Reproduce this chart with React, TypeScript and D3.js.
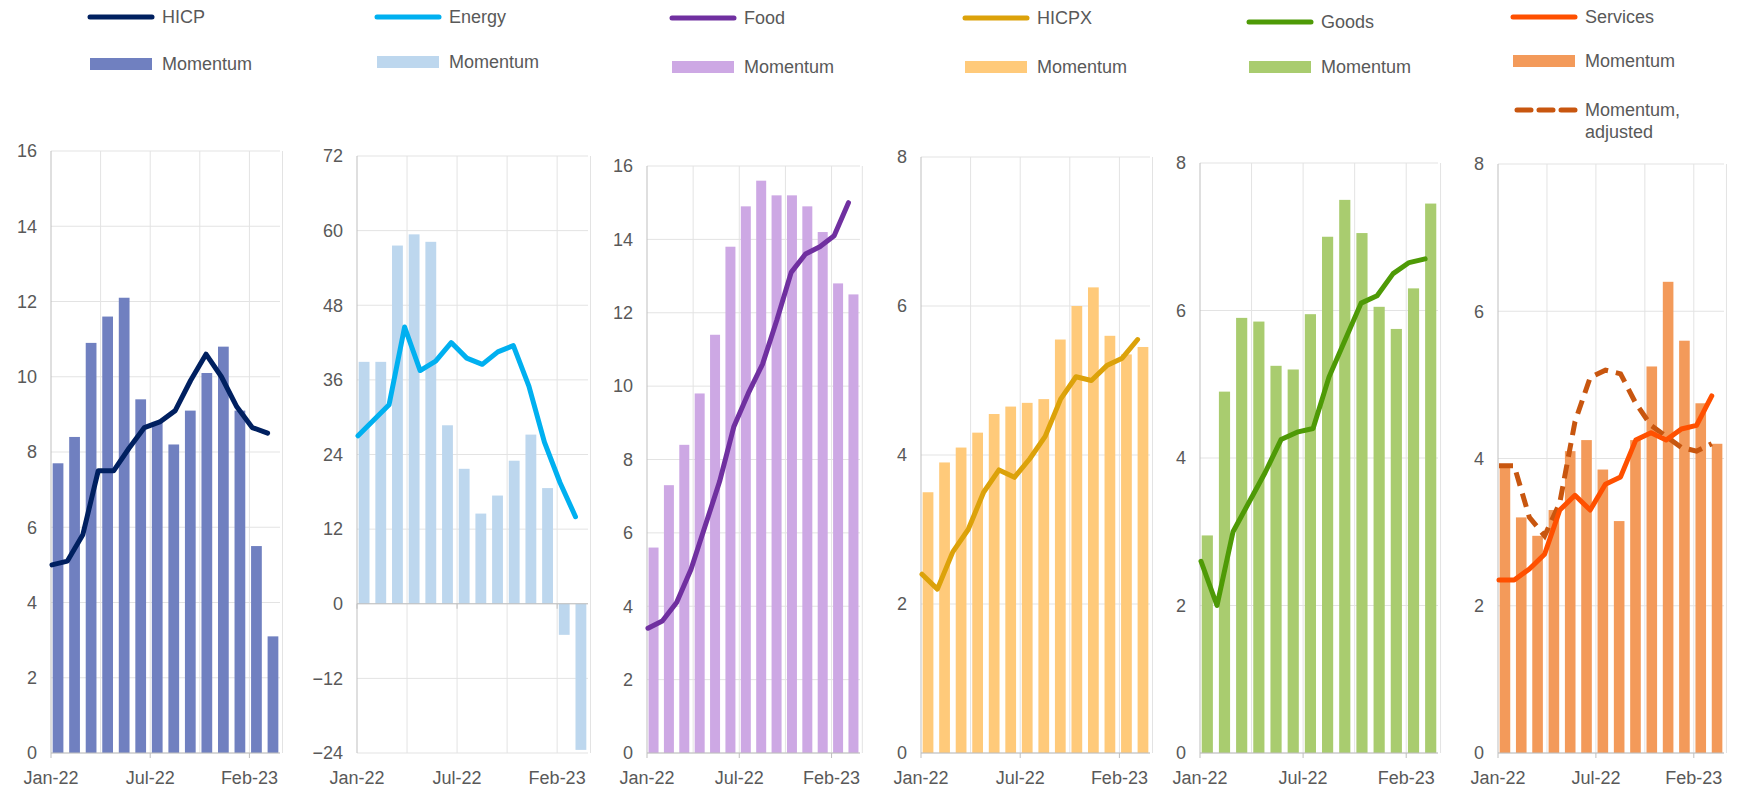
import React, { useRef, useEffect } from 'react';
import * as d3 from 'd3';

const barMonths = ['Jan-22','Feb-22','Mar-22','Apr-22','May-22','Jun-22','Jul-22','Aug-22','Sep-22','Oct-22','Nov-22','Dec-22','Jan-23','Feb-23'];
const tickLabels = ['Jan-22', 'Jul-22', 'Feb-23'];

const hicpBars = [7.7, 8.4, 10.9, 11.6, 12.1, 9.4, 8.8, 8.2, 9.1, 10.1, 10.8, 9.1, 5.5, 3.1];
const hicpLine = [5.0, 5.1, 5.8, 7.5, 7.5, 8.1, 8.65, 8.8, 9.1, 9.9, 10.6, 10.0, 9.2, 8.65, 8.5];
const energyBars = [38.9, 38.9, 57.6, 59.4, 58.2, 28.7, 21.7, 14.5, 17.4, 23.0, 27.2, 18.6, -5.0, -23.5];
const energyLine = [27, 29.5, 32, 44.5, 37.5, 39, 42, 39.5, 38.5, 40.5, 41.5, 35, 26, 19.5, 14];
const foodBars = [5.6, 7.3, 8.4, 9.8, 11.4, 13.8, 14.9, 15.6, 15.2, 15.2, 14.9, 14.2, 12.8, 12.5];
const foodLine = [3.4, 3.6, 4.1, 5.0, 6.2, 7.4, 8.9, 9.8, 10.6, 11.8, 13.1, 13.6, 13.8, 14.1, 15.0];
const hicpxBars = [3.5, 3.9, 4.1, 4.3, 4.55, 4.65, 4.7, 4.75, 5.55, 6.0, 6.25, 5.6, 5.35, 5.45];
const hicpxLine = [2.4, 2.2, 2.7, 3.0, 3.5, 3.8, 3.7, 3.95, 4.25, 4.75, 5.05, 5.0, 5.2, 5.3, 5.55];
const goodsBars = [2.95, 4.9, 5.9, 5.85, 5.25, 5.2, 5.95, 7.0, 7.5, 7.05, 6.05, 5.75, 6.3, 7.45];
const goodsLine = [2.6, 2.0, 3.0, 3.4, 3.8, 4.25, 4.35, 4.4, 5.1, 5.6, 6.1, 6.2, 6.5, 6.65, 6.7];
const servicesBars = [3.9, 3.2, 2.95, 3.3, 4.1, 4.25, 3.85, 3.15, 4.25, 5.25, 6.4, 5.6, 4.75, 4.2];
const servicesLine = [2.35, 2.35, 2.5, 2.7, 3.3, 3.5, 3.3, 3.65, 3.75, 4.25, 4.35, 4.25, 4.4, 4.45, 4.85];
const servicesAdj = [3.9, 3.9, 3.2, 2.95, 3.4, 4.5, 5.1, 5.2, 5.15, 4.75, 4.45, 4.3, 4.15, 4.1, 4.2];

type Panel = {
  name: string; bars: number[]; line: number[]; dashed?: number[];
  lineColor: string; barColor: string; dashColor?: string;
  x0: number; x1: number; yTop: number; domain: [number, number]; step: number;
  legendX: number; legendY: number; momY: number;
};

const panels: Panel[] = [
  { name: 'HICP', bars: hicpBars, line: hicpLine, lineColor: '#002060', barColor: '#7080c0', x0: 51, x1: 280, yTop: 151, domain: [0, 16], step: 2, legendX: 90, legendY: 17, momY: 64 },
  { name: 'Energy', bars: energyBars, line: energyLine, lineColor: '#00b0f0', barColor: '#bdd7ee', x0: 357, x1: 588, yTop: 156, domain: [-24, 72], step: 12, legendX: 377, legendY: 17, momY: 62 },
  { name: 'Food', bars: foodBars, line: foodLine, lineColor: '#7030a0', barColor: '#cda8e4', x0: 647, x1: 860, yTop: 166, domain: [0, 16], step: 2, legendX: 672, legendY: 18, momY: 67 },
  { name: 'HICPX', bars: hicpxBars, line: hicpxLine, lineColor: '#dca20a', barColor: '#ffca7a', x0: 921, x1: 1150, yTop: 157, domain: [0, 8], step: 2, legendX: 965, legendY: 18, momY: 67 },
  { name: 'Goods', bars: goodsBars, line: goodsLine, lineColor: '#4e9a06', barColor: '#a9cc6f', x0: 1200, x1: 1438, yTop: 163, domain: [0, 8], step: 2, legendX: 1249, legendY: 22, momY: 67 },
  { name: 'Services', bars: servicesBars, line: servicesLine, dashed: servicesAdj, lineColor: '#ff5000', barColor: '#f39a5a', dashColor: '#c8560f', x0: 1498, x1: 1724, yTop: 164, domain: [0, 8], step: 2, legendX: 1513, legendY: 17, momY: 61 },
];

const yBottom = 753;
const textColor = '#595959';
const font = '"Liberation Sans", Arial, sans-serif';

const App = () => {
  const svgRef = useRef<SVGSVGElement | null>(null);

  useEffect(() => {
    const svg = d3.select(svgRef.current);
    svg.selectAll('*').remove();

    panels.forEach((p) => {
      const g = svg.append('g');
      const x = d3.scaleBand().domain(barMonths).range([p.x0, p.x1]).paddingInner(0.35).paddingOuter(0.1);
      const stepW = x.step();
      const y = d3.scaleLinear().domain(p.domain).range([yBottom, p.yTop]);
      const xl = d3.scaleLinear().domain([0, 14]).range([p.x0 + 1, p.x0 + stepW * 13.1]);
      const ticks = d3.range(p.domain[0], p.domain[1] + 0.001, p.step);

      // grid
      g.selectAll('.hg').data(ticks).join('line')
        .attr('x1', p.x0).attr('x2', p.x1).attr('y1', (d) => y(d)).attr('y2', (d) => y(d))
        .attr('stroke', '#e3e3e3').attr('stroke-width', 1);
      g.selectAll('.vg').data([3, 6, 9, 12, 14]).join('line')
        .attr('x1', (d) => p.x0 + d * stepW).attr('x2', (d) => p.x0 + d * stepW)
        .attr('y1', p.yTop).attr('y2', yBottom)
        .attr('stroke', '#e3e3e3').attr('stroke-width', 1);

      // bars
      g.selectAll('.bar').data(p.bars).join('rect')
        .attr('x', (_, i) => x(barMonths[i])!)
        .attr('width', x.bandwidth())
        .attr('y', (d) => y(Math.max(0, d)))
        .attr('height', (d) => Math.abs(y(d) - y(0)))
        .attr('fill', p.barColor);

      // axes
      g.append('line').attr('x1', p.x0).attr('x2', p.x0).attr('y1', p.yTop).attr('y2', yBottom).attr('stroke', '#bfbfbf');
      g.append('line').attr('x1', p.x0).attr('x2', p.x1).attr('y1', y(0)).attr('y2', y(0)).attr('stroke', '#bfbfbf');
      g.selectAll('.xt').data([0, 6, 12]).join('line')
        .attr('x1', (d) => p.x0 + d * stepW).attr('x2', (d) => p.x0 + d * stepW)
        .attr('y1', y(0)).attr('y2', y(0) + 5).attr('stroke', '#bfbfbf');

      g.selectAll('.yl').data(ticks).join('text')
        .attr('x', p.x0 - 14).attr('y', (d) => y(d)).attr('dy', '0.35em')
        .attr('text-anchor', 'end').attr('font-family', font).attr('font-size', 18).attr('fill', textColor)
        .text((d) => d3.format('d')(d));
      g.selectAll('.xl').data(tickLabels).join('text')
        .attr('x', (_, i) => p.x0 + [0, 6, 12][i] * stepW).attr('y', 784)
        .attr('text-anchor', 'middle').attr('font-family', font).attr('font-size', 18).attr('fill', textColor)
        .text((d) => d);

      const lineGen = d3.line<number>().x((_, i) => xl(i)).y((d) => y(d));
      if (p.dashed) {
        g.append('path').attr('d', lineGen(p.dashed)).attr('fill', 'none')
          .attr('stroke', p.dashColor!).attr('stroke-width', 5).attr('stroke-dasharray', '14,8');
      }
      g.append('path').attr('d', lineGen(p.line)).attr('fill', 'none')
        .attr('stroke', p.lineColor).attr('stroke-width', 5).attr('stroke-linejoin', 'round').attr('stroke-linecap', 'round');

      // legend
      const lg = svg.append('g').attr('font-family', font).attr('font-size', 18).attr('fill', textColor);
      lg.append('line').attr('x1', p.legendX).attr('x2', p.legendX + 62).attr('y1', p.legendY).attr('y2', p.legendY)
        .attr('stroke', p.lineColor).attr('stroke-width', 5).attr('stroke-linecap', 'round');
      lg.append('text').attr('x', p.legendX + 72).attr('y', p.legendY).attr('dy', '0.35em').text(p.name);
      lg.append('rect').attr('x', p.legendX).attr('y', p.momY - 6).attr('width', 62).attr('height', 12).attr('fill', p.barColor);
      lg.append('text').attr('x', p.legendX + 72).attr('y', p.momY).attr('dy', '0.35em').text('Momentum');
      if (p.dashed) {
        const dy = 110;
        lg.append('line').attr('x1', p.legendX + 4).attr('x2', p.legendX + 62).attr('y1', dy).attr('y2', dy)
          .attr('stroke', p.dashColor!).attr('stroke-width', 5).attr('stroke-dasharray', '14,8').attr('stroke-linecap', 'round');
        lg.append('text').attr('x', p.legendX + 72).attr('y', dy).attr('dy', '0.35em').text('Momentum,');
        lg.append('text').attr('x', p.legendX + 72).attr('y', dy + 22).attr('dy', '0.35em').text('adjusted');
      }
    });
  }, []);

  return <svg ref={svgRef} width={1755} height={791} style={{ display: 'block', position: 'absolute', left: 0, top: 0 }}></svg>;
};

export default App;
